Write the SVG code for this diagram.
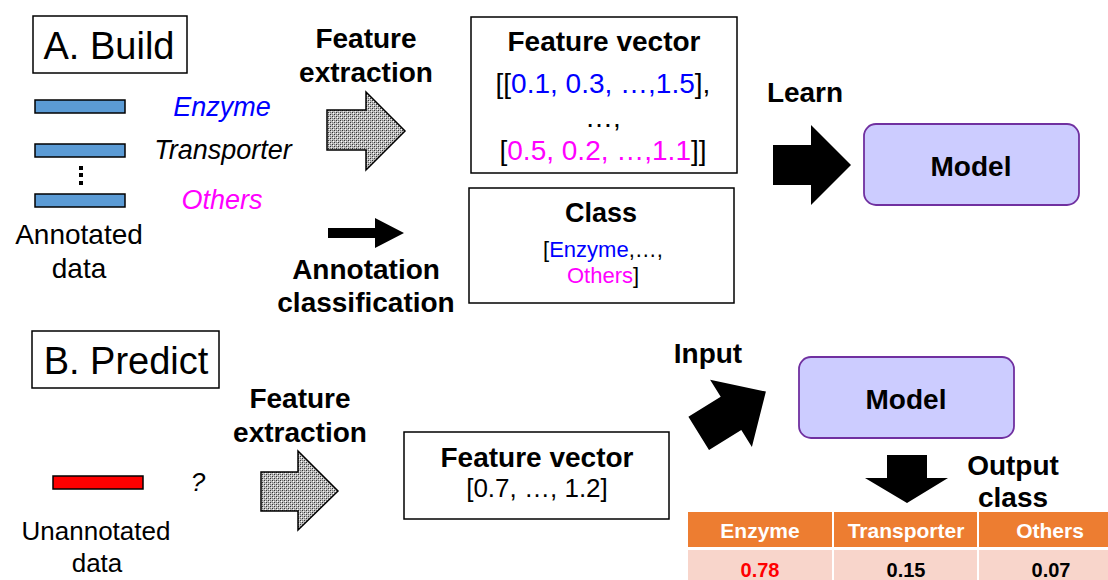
<svg xmlns="http://www.w3.org/2000/svg" width="1108" height="580" viewBox="0 0 1108 580">
<defs>
<pattern id="dots" width="4" height="4" patternUnits="userSpaceOnUse">
<rect width="4" height="4" fill="#bdbdbd"/>
<rect x="0" y="0" width="1" height="1" fill="#333"/>
<rect x="2" y="2" width="1" height="1" fill="#333"/>
<rect x="2" y="0" width="1" height="1" fill="#777"/>
<rect x="0" y="2" width="1" height="1" fill="#777"/>
<rect x="1" y="1" width="1" height="1" fill="#fff"/>
<rect x="3" y="3" width="1" height="1" fill="#eee"/>
</pattern>
<style>
text{font-family:"Liberation Sans",Arial,sans-serif;text-anchor:middle;fill:#000}
text.s{text-anchor:start}
.b{font-weight:bold}
.box{fill:#fff;stroke:#000;stroke-width:1.5}
.model{fill:#ccccff;stroke:#7030a0;stroke-width:1.8}
.bar{fill:#5b9bd5;stroke:#000;stroke-width:1.5}
.gray{fill:url(#dots);stroke:#000;stroke-width:1.5}
.blk{fill:#000}
text.blue{fill:#0000ff}
text.mag{fill:#ff00ff}
.hdr{fill:#ed7d31}
.cell{fill:#f8d5cb}
.th{font-weight:bold;font-size:21px;fill:#fff}
.td{font-weight:bold;font-size:20px}
</style>
</defs>
<rect width="1108" height="580" fill="#fff"/>

<g id="title-a">
<rect class="box" x="33" y="16" width="154" height="57"/>
<text x="109" y="59" font-size="38">A. Build</text>
</g>

<g id="annotated-data">
<rect class="bar" x="35" y="100" width="90" height="13"/>
<rect class="bar" x="35" y="144" width="90" height="13"/>
<rect class="blk" x="79" y="166" width="4" height="4"/>
<rect class="blk" x="79" y="173" width="4" height="4"/>
<rect class="blk" x="79" y="181" width="4" height="4"/>
<rect class="bar" x="35" y="194" width="90" height="13"/>
<text x="222" y="116" font-size="27" font-style="italic" class="blue">Enzyme</text>
<text x="223" y="159" font-size="27" font-style="italic">Transporter</text>
<text x="222" y="209" font-size="27" font-style="italic" class="mag">Others</text>
<text x="79" y="244" font-size="28">Annotated</text>
<text x="79" y="278" font-size="28">data</text>
</g>

<g id="label-feature-extraction-a">
<text class="b" x="366" y="48" font-size="28">Feature</text>
<text class="b" x="366" y="82" font-size="28">extraction</text>
</g>
<g id="label-annotation-classification">
<text class="b" x="366" y="279" font-size="28">Annotation</text>
<text class="b" x="366" y="312" font-size="28">classification</text>
</g>

<g id="feature-vector-a">
<rect class="box" x="471" y="17" width="266" height="156"/>
<text class="b" x="604" y="51" font-size="28">Feature vector</text>
<text class="s" x="495.5" y="93" font-size="28">[[</text>
<text class="s blue" x="511.1" y="93" font-size="28">0.1, 0.3, …,1.5</text>
<text class="s" x="694.8" y="93" font-size="28">],</text>
<text x="603" y="127" font-size="28">…,</text>
<text class="s" x="499.5" y="160" font-size="28">[</text>
<text class="s mag" x="507.3" y="160" font-size="28">0.5, 0.2, …,1.1</text>
<text class="s" x="691" y="160" font-size="28">]]</text>
</g>

<g id="class-a">
<rect class="box" x="469" y="188" width="265" height="115"/>
<text class="b" x="601" y="222" font-size="27">Class</text>
<text class="s" x="543.1" y="257" font-size="22">[</text>
<text class="s blue" x="549.2" y="257" font-size="22">Enzyme</text>
<text class="s" x="628.7" y="257" font-size="22">,…,</text>
<text class="s mag" x="567" y="283" font-size="22">Others</text>
<text class="s" x="633" y="283" font-size="22">]</text>
</g>

<g id="label-learn">
<text class="b" x="805" y="102" font-size="28">Learn</text>
</g>

<g id="model-a">
<rect class="model" x="864" y="124" width="215" height="81" rx="12"/>
<text class="b" x="971" y="176" font-size="28">Model</text>
</g>

<g id="title-b">
<rect class="box" x="32" y="331" width="187" height="57"/>
<text x="126" y="374" font-size="38">B. Predict</text>
</g>

<g id="unannotated-data">
<rect x="53" y="476" width="90" height="13" fill="#ff0000" stroke="#000" stroke-width="1.5"/>
<text x="198" y="491" font-size="26" font-style="italic">?</text>
<text x="96" y="540" font-size="26">Unannotated</text>
<text x="97" y="572" font-size="26">data</text>
</g>

<g id="label-feature-extraction-b">
<text class="b" x="300" y="408" font-size="28">Feature</text>
<text class="b" x="300" y="442" font-size="28">extraction</text>
</g>

<g id="feature-vector-b">
<rect class="box" x="404" y="432" width="265" height="87"/>
<text class="b" x="537" y="467" font-size="28">Feature vector</text>
<text x="537" y="497" font-size="26">[0.7, …, 1.2]</text>
</g>

<g id="label-input">
<text class="b" x="708" y="363" font-size="28">Input</text>
</g>

<g id="model-b">
<rect class="model" x="799" y="357" width="215" height="81" rx="12"/>
<text class="b" x="906" y="409" font-size="28">Model</text>
</g>

<g id="label-output-class">
<text class="b" x="1013" y="475" font-size="28">Output</text>
<text class="b" x="1013" y="507" font-size="28">class</text>
</g>

<g id="output-table">
<rect class="hdr" x="688" y="512" width="144" height="35"/>
<rect class="hdr" x="834" y="512" width="143" height="35"/>
<rect class="hdr" x="979" y="512" width="143" height="35"/>
<rect class="cell" x="688" y="550" width="144" height="35"/>
<rect class="cell" x="834" y="550" width="143" height="35"/>
<rect class="cell" x="979" y="550" width="143" height="35"/>
<text class="th" x="760" y="538">Enzyme</text>
<text class="th" x="906" y="538">Transporter</text>
<text class="th" x="1050" y="538">Others</text>
<text class="td" x="760" y="577" style="fill:#ff0000">0.78</text>
<text class="td" x="906" y="577">0.15</text>
<text class="td" x="1051" y="577">0.07</text>
</g>

<g id="connectors">
<polygon class="gray" points="327,110 366,110 366,92 405,131 366,170 366,150 327,150"/>
<polygon class="blk" points="328,228 375,228 375,218 404,233 375,248 375,238 328,238"/>
<polygon class="blk" points="773,145 811,145 811,125 851,165 811,205 811,185 773,185"/>
<polygon class="gray" points="261,472 298,472 298,451 338,491 298,530 298,511 261,511"/>
<polygon class="blk" points="688.4,416.8 720.7,396.7 710.1,379.7 765.9,391.6 751.9,446.9 741.3,429.9 709,450"/>
<polygon class="blk" points="887,455 927,455 927,478 948,478 907,503 865,478 887,478"/>
</g>
</svg>
